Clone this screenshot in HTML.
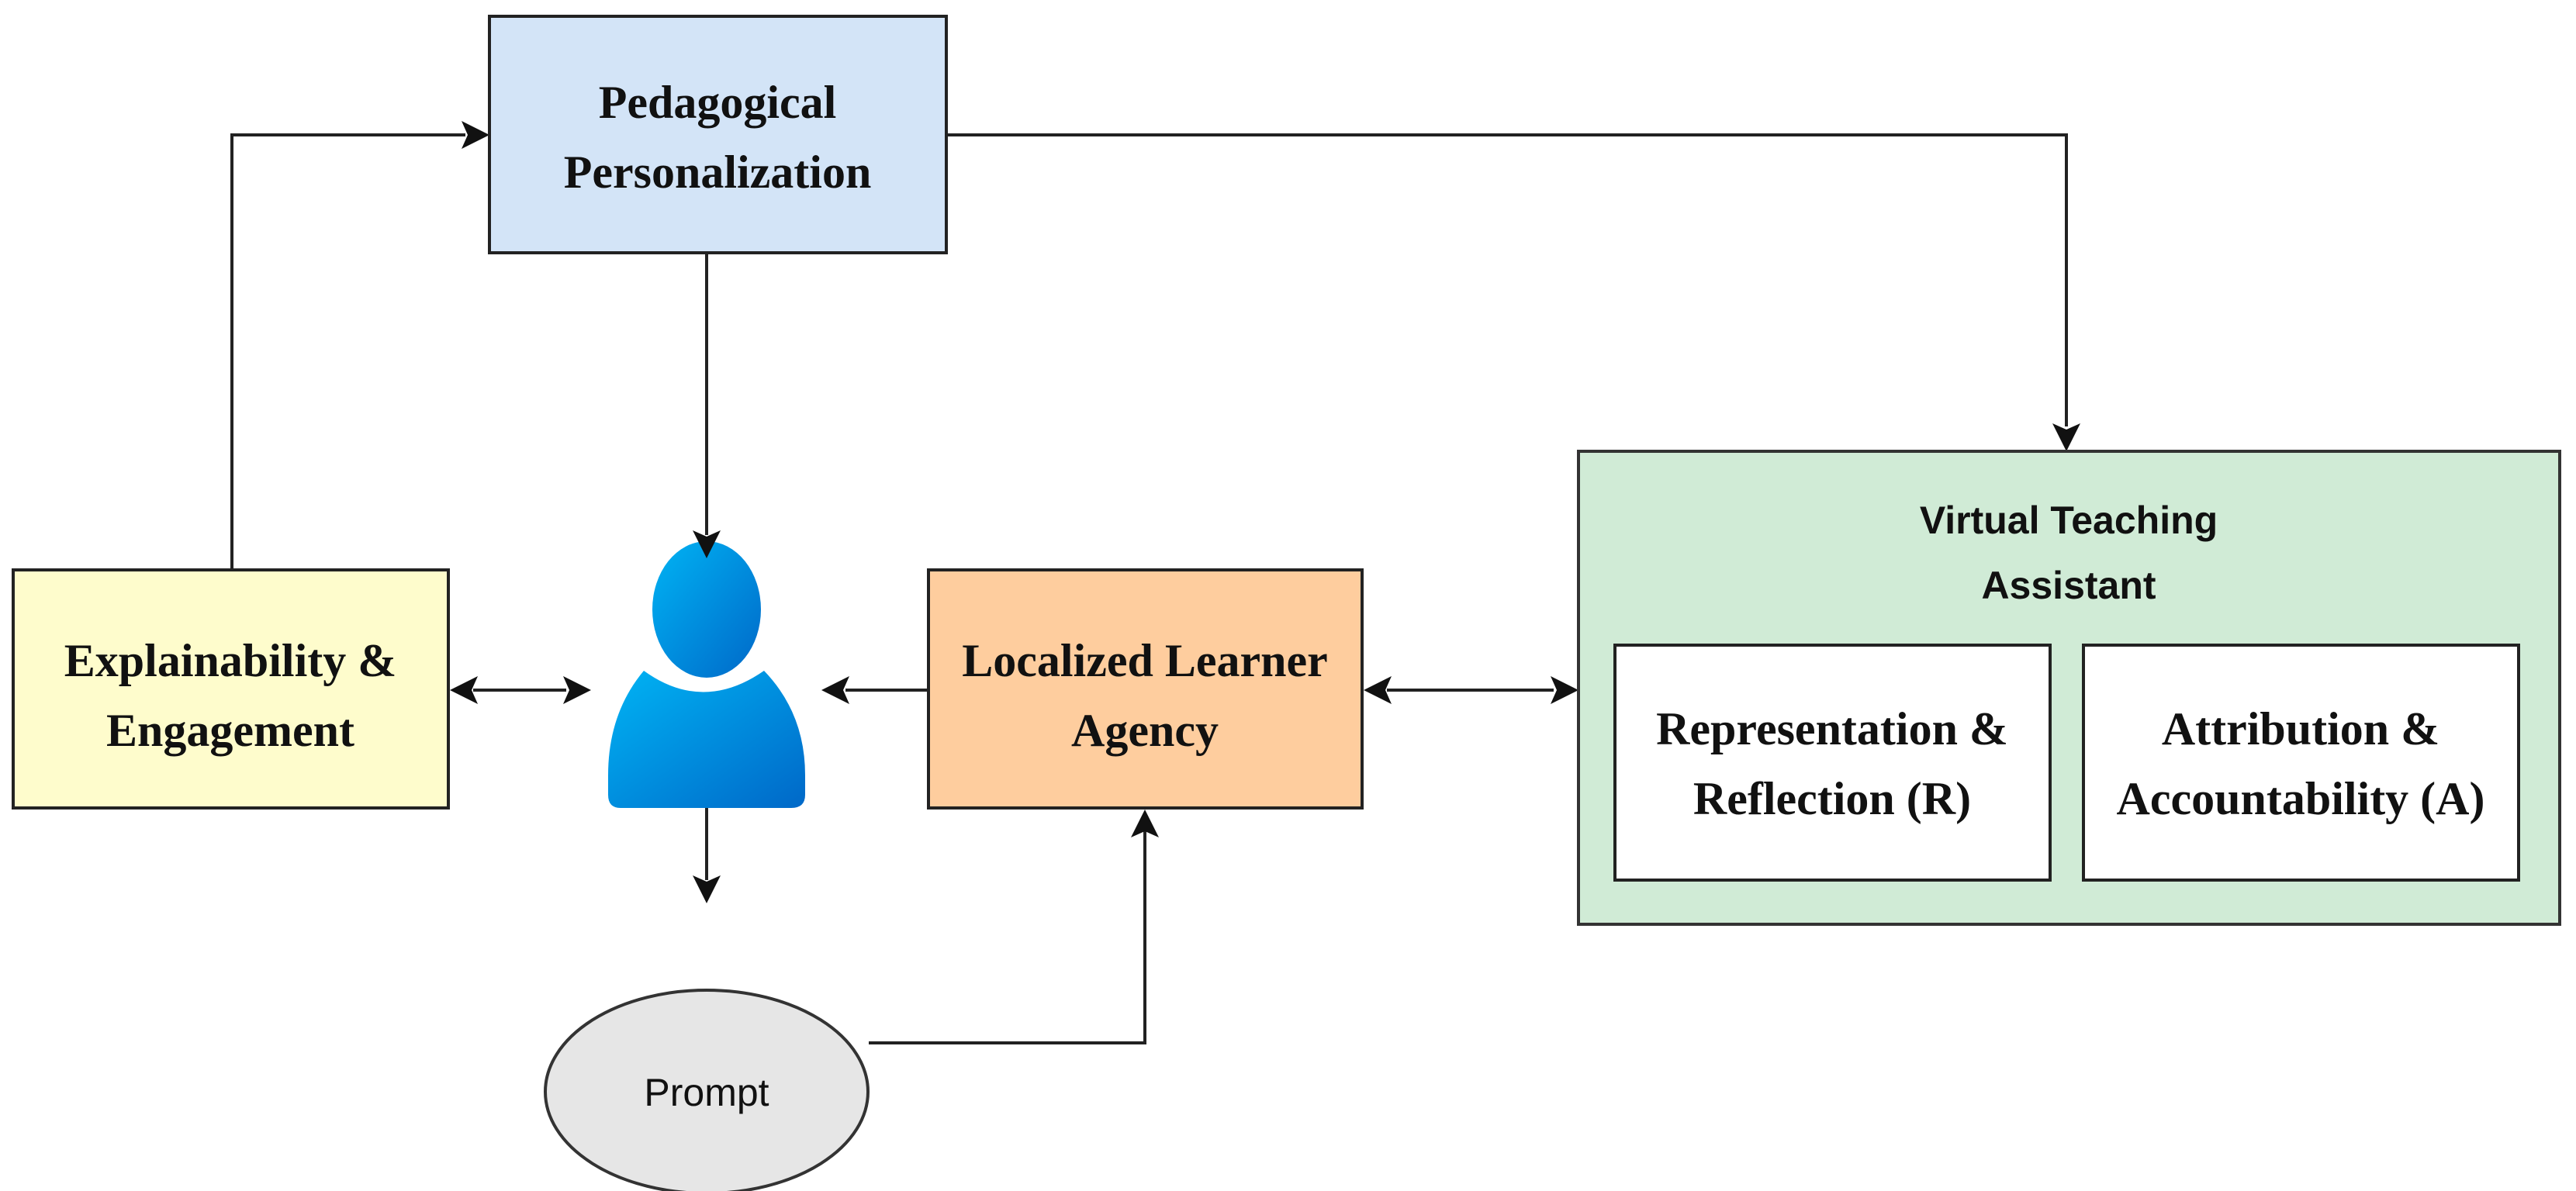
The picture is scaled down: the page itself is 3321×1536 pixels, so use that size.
<!DOCTYPE html>
<html><head><meta charset="utf-8"><style>
html,body{margin:0;padding:0;background:#fff;}
svg{display:block;}
.s{font-family:"Liberation Serif",serif;font-weight:bold;font-size:60px;fill:#111;}
.a{font-family:"Liberation Sans",sans-serif;font-weight:bold;font-size:50px;fill:#111;}
</style></head><body>
<svg width="3321" height="1536" viewBox="0 0 3321 1536" xmlns="http://www.w3.org/2000/svg">
<defs>
<linearGradient id="pg" x1="0" y1="0" x2="1" y2="1"><stop offset="0" stop-color="#00b4f4"/><stop offset="1" stop-color="#0068c8"/></linearGradient>
</defs>
<g stroke="#222" stroke-width="4" fill="none">
<polyline points="299,735 299,174 600,174"/>
<polyline points="1220,174 2664,174 2664,550"/>
<line x1="911" y1="326" x2="911" y2="690"/>
<line x1="610" y1="890" x2="730" y2="890"/>
<line x1="1197" y1="890" x2="1090" y2="890"/>
<line x1="1788" y1="890" x2="2003" y2="890"/>
<line x1="911" y1="1042" x2="911" y2="1135"/>
<polyline points="1120,1345 1476,1345 1476,1072"/>
</g>
<ellipse cx="911" cy="786" rx="70" ry="88" fill="url(#pg)"/>
<path d="M830,865 Q906,920 985,865 Q1038,920 1038,1000 L1038,1025 Q1038,1042 1020,1042 L800,1042 Q784,1042 784,1025 L784,1000 Q784,920 830,865 Z" fill="url(#pg)"/>
<g fill="#111">
<polygon points="631,174 595,156 603,174 595,192"/>
<polygon points="2664,582 2646,546 2664,554 2682,546"/>
<polygon points="911,720 893,684 911,692 929,684"/>
<polygon points="580,890 616,872 608,890 616,908"/>
<polygon points="762,890 726,872 734,890 726,908"/>
<polygon points="1059,890 1095,872 1087,890 1095,908"/>
<polygon points="1758,890 1794,872 1786,890 1794,908"/>
<polygon points="2035,890 1999,872 2007,890 1999,908"/>
<polygon points="911,1165 893,1129 911,1137 929,1129"/>
<polygon points="1476,1044 1458,1080 1476,1072 1494,1080"/>
</g>
<rect x="631" y="21" width="589" height="305" fill="#d3e4f7" stroke="#222" stroke-width="4"/>
<text class="s" text-anchor="middle"><tspan x="925" y="152">Pedagogical</tspan><tspan x="925" y="242">Personalization</tspan></text>
<rect x="17" y="735" width="561" height="307" fill="#fefccc" stroke="#222" stroke-width="4"/>
<text class="s" text-anchor="middle"><tspan x="297" y="872">Explainability &amp;</tspan><tspan x="297" y="962">Engagement</tspan></text>
<rect x="1197" y="735" width="559" height="307" fill="#fecd9e" stroke="#222" stroke-width="4"/>
<text class="s" text-anchor="middle"><tspan x="1476" y="872">Localized Learner</tspan><tspan x="1476" y="962">Agency</tspan></text>
<ellipse cx="911" cy="1408" rx="208" ry="131" fill="#e6e6e6" stroke="#333" stroke-width="4"/>
<text x="911" y="1426" text-anchor="middle" style="font-family:'Liberation Sans',sans-serif;font-size:50px;fill:#111">Prompt</text>
<rect x="2035" y="582" width="1265" height="610" fill="#d0ebd6" stroke="#333" stroke-width="4"/>
<text class="a" text-anchor="middle"><tspan x="2667" y="688">Virtual Teaching</tspan><tspan x="2667" y="772">Assistant</tspan></text>
<rect x="2082" y="832" width="561" height="303" fill="#fff" stroke="#222" stroke-width="4"/>
<text class="s" text-anchor="middle"><tspan x="2362" y="960">Representation &amp;</tspan><tspan x="2362" y="1050">Reflection (R)</tspan></text>
<rect x="2686" y="832" width="561" height="303" fill="#fff" stroke="#222" stroke-width="4"/>
<text class="s" text-anchor="middle"><tspan x="2966" y="960">Attribution &amp;</tspan><tspan x="2966" y="1050">Accountability (A)</tspan></text>
</svg>
</body></html>
